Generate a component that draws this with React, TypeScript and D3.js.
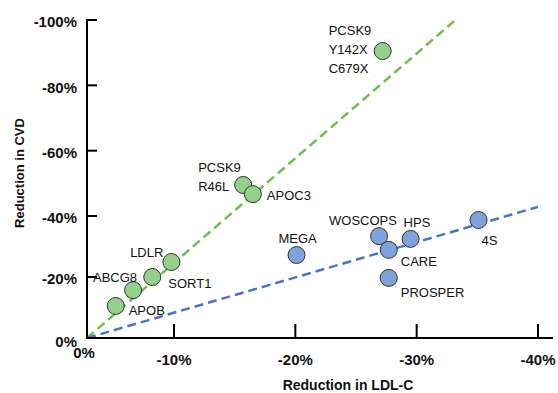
import React from "react";
import * as d3 from "d3";

// Genetic / drug variants (green) : x = reduction in LDL-C (%), y = reduction in CVD (%)
const geneNames = ["APOB", "ABCG8", "SORT1", "LDLR", "PCSK9\nR46L", "APOC3", "PCSK9\nY142X\nC679X"];
const geneLDL = [-3.3, -5.3, -7.5, -9.7, -15.7, -16.5, -27.2];
const geneCVD = [-10.5, -15.7, -20.0, -24.9, -49.5, -46.7, -90.5];

// Statin trials (blue)
const trialNames = ["MEGA", "WOSCOPS", "CARE", "HPS", "4S", "PROSPER"];
const trialLDL = [-20.1, -26.9, -27.7, -29.5, -35.1, -27.7];
const trialCVD = [-27.2, -33.4, -28.9, -32.5, -38.7, -19.7];

// Trend lines (from origin)
const greenLineEnd = [-33.2, -100];
const blueLineEnd = [-40, -42.8];

const xTicks = [-10, -20, -30, -40];
const yTicks = [-20, -40, -60, -80, -100];

// label layout (pixel offsets from marker centre)
const geneLabelLayout = [
  { dx: 13, dy: 4, anchor: "start" },
  { dx: 4, dy: -13, anchor: "end" },
  { dx: 16, dy: 6, anchor: "start" },
  { dx: -8, dy: -10, anchor: "end" },
  { dx: -45, dy: -18, anchor: "start" },
  { dx: 14, dy: 1, anchor: "start" },
  { dx: -54, dy: -21, anchor: "start" },
];
const trialLabelLayout = [
  { dx: 1, dy: -17, anchor: "middle" },
  { dx: -50, dy: -16, anchor: "start" },
  { dx: 12, dy: 12, anchor: "start" },
  { dx: -7, dy: -16, anchor: "start" },
  { dx: 3, dy: 20, anchor: "start" },
  { dx: 12, dy: 15, anchor: "start" },
];

const W = 558;
const H = 393;
const FONT = "'Liberation Sans', Arial, sans-serif";

export default function App() {
  const x = d3.scaleLinear().domain([0, -10, -40]).range([87, 174, 538]);
  const y = d3.scaleLinear().domain([0, -40, -100]).range([338, 216, 20]);
  const line = d3
    .line<number[]>()
    .x((d) => x(d[0]))
    .y((d) => y(d[1]));

  const x0 = x(0);
  const y0 = y(0);
  const r = 8.5;

  const renderLabel = (name: string, cx: number, cy: number, l: any, key: string) => {
    const lines = name.split("\n");
    return (
      <text
        key={key}
        x={cx + l.dx}
        y={cy + l.dy}
        textAnchor={l.anchor}
        fontSize={13}
        fontFamily={FONT}
        fill="#111"
      >
        {lines.map((t, i) => (
          <tspan key={i} x={cx + l.dx} dy={i === 0 ? "0.35em" : 19}>
            {t}
          </tspan>
        ))}
      </text>
    );
  };

  return (
    <svg
      width={W}
      height={H}
      style={{ position: "absolute", left: 0, top: 0, background: "#fff" }}
    >
      <rect width={W} height={H} fill="#fff" />
      {/* trend lines */}
      <path
        d={line([[0, 0], greenLineEnd]) || ""}
        stroke="#6dbf4f"
        strokeWidth={2.5}
        strokeDasharray="9,5"
        fill="none"
      />
      <path
        d={line([[0, 0], blueLineEnd]) || ""}
        stroke="#4a72cf"
        strokeWidth={2.5}
        strokeDasharray="9,5"
        fill="none"
      />
      {/* axes */}
      <line x1={x0} y1={y0} x2={553} y2={y0} stroke="#000" strokeWidth={2} />
      <line x1={x0} y1={y0 + 1} x2={x0} y2={y(-100) - 1} stroke="#000" strokeWidth={2} />
      {xTicks.map((t) => (
        <g key={"xt" + t}>
          <line x1={x(t)} x2={x(t)} y1={y0} y2={y0 - 14} stroke="#000" strokeWidth={2} />
          <text
            x={x(t)}
            y={360}
            dy="0.35em"
            textAnchor="middle"
            fontSize={15}
            fontWeight="bold"
            fontFamily={FONT}
            fill="#111"
          >
            {t}%
          </text>
        </g>
      ))}
      <text x={x0 - 3} y={353} dy="0.35em" textAnchor="middle" fontSize={15} fontWeight="bold" fontFamily={FONT} fill="#111">
        0%
      </text>
      {yTicks.map((t) => (
        <g key={"yt" + t}>
          <line x1={x0} x2={x0 + 10} y1={y(t)} y2={y(t)} stroke="#000" strokeWidth={2} />
          <text
            x={77}
            y={y(t) + 2}
            dy="0.35em"
            textAnchor="end"
            fontSize={15}
            fontWeight="bold"
            fontFamily={FONT}
            fill="#111"
          >
            {t}%
          </text>
        </g>
      ))}
      <text x={77} y={y0 + 4} dy="0.35em" textAnchor="end" fontSize={15} fontWeight="bold" fontFamily={FONT} fill="#111">
        0%
      </text>
      {/* axis titles */}
      <text x={348} y={385} dy="0.35em" textAnchor="middle" fontSize={14} fontWeight="bold" fontFamily={FONT} fill="#111">
        Reduction in LDL-C
      </text>
      <text
        transform={`translate(19,173) rotate(-90)`}
        dy="0.35em"
        textAnchor="middle"
        fontSize={13}
        fontWeight="bold"
        fontFamily={FONT}
        fill="#111"
      >
        Reduction in CVD
      </text>
      {/* markers */}
      {trialNames.map((n, i) => (
        <circle key={"tc" + n} cx={x(trialLDL[i])} cy={y(trialCVD[i])} r={r} fill="#7ea3dc" stroke="#333" strokeWidth={1} />
      ))}
      {geneNames.map((n, i) => (
        <circle key={"gc" + n} cx={x(geneLDL[i])} cy={y(geneCVD[i])} r={r} fill="#93d08a" stroke="#333" strokeWidth={1} />
      ))}
      {/* labels */}
      {geneNames.map((n, i) => renderLabel(n, x(geneLDL[i]), y(geneCVD[i]), geneLabelLayout[i], "gl" + i))}
      {trialNames.map((n, i) => renderLabel(n, x(trialLDL[i]), y(trialCVD[i]), trialLabelLayout[i], "tl" + i))}
    </svg>
  );
}
